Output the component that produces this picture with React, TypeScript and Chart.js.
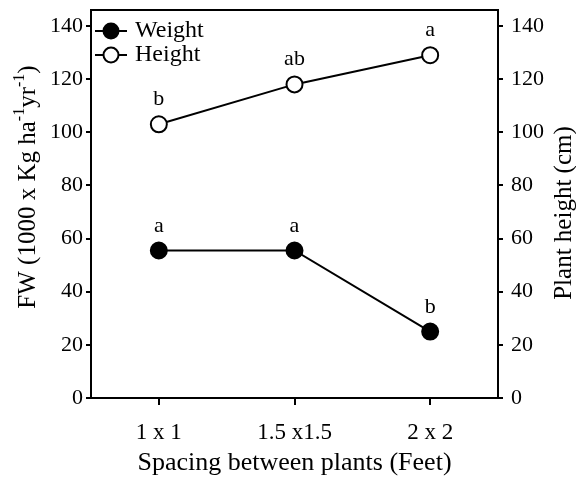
import React, { useEffect, useRef } from "react";
import { Chart, registerables } from "chart.js";

Chart.register(...registerables);

const categories = ["1 x 1", "1.5 x1.5", "2 x 2"];
const weightValues = [55.5, 55.5, 25];
const heightValues = [103, 118, 129];
const weightLetters = ["a", "a", "b"];
const heightLetters = ["b", "ab", "a"];
const yTicks = [0, 20, 40, 60, 80, 100, 120, 140];

const FONT = "'Liberation Serif', 'Times New Roman', serif";

const decorPlugin = {
  id: "decor",
  afterDatasetsDraw(chart: any) {
    const ctx = chart.ctx;
    const area = chart.chartArea;
    ctx.save();
    // top border
    ctx.strokeStyle = "#000";
    ctx.lineWidth = 2;
    ctx.beginPath();
    ctx.moveTo(area.left - 1, area.top);
    ctx.lineTo(area.right + 1, area.top);
    ctx.stroke();

    // letters
    ctx.fillStyle = "#000";
    ctx.font = `22px ${FONT}`;
    ctx.textAlign = "center";
    ctx.textBaseline = "alphabetic";
    const letterSets = [weightLetters, heightLetters];
    chart.data.datasets.forEach((ds: any, i: number) => {
      const meta = chart.getDatasetMeta(i);
      meta.data.forEach((pt: any, j: number) => {
        ctx.fillText(letterSets[i][j], pt.x, pt.y - 19);
      });
    });

    // legend
    const rows = [
      { label: chart.data.datasets[0].label, fill: "#000", y: area.top + 21 },
      { label: chart.data.datasets[1].label, fill: "#fff", y: area.top + 45 },
    ];
    rows.forEach((r) => {
      ctx.strokeStyle = "#000";
      ctx.lineWidth = 2;
      ctx.beginPath();
      ctx.moveTo(area.left + 4, r.y);
      ctx.lineTo(area.left + 36, r.y);
      ctx.stroke();
      ctx.beginPath();
      ctx.arc(area.left + 20, r.y, 7.5, 0, Math.PI * 2);
      ctx.fillStyle = r.fill;
      ctx.fill();
      ctx.stroke();
      ctx.fillStyle = "#000";
      ctx.font = `24px ${FONT}`;
      ctx.textAlign = "left";
      ctx.textBaseline = "middle";
      ctx.fillText(r.label, area.left + 44, r.y);
    });

    // titles with superscripts
    const drawRich = (parts: { t: string; sup?: boolean }[], cx: number, cy: number) => {
      const base = `25px ${FONT}`;
      const sup = `16px ${FONT}`;
      let total = 0;
      parts.forEach((p) => {
        ctx.font = p.sup ? sup : base;
        total += ctx.measureText(p.t).width;
      });
      ctx.save();
      ctx.translate(cx, cy);
      ctx.rotate(-Math.PI / 2);
      ctx.textAlign = "left";
      ctx.textBaseline = "middle";
      let x = -total / 2;
      parts.forEach((p) => {
        ctx.font = p.sup ? sup : base;
        ctx.fillText(p.t, x, p.sup ? -8 : 0);
        x += ctx.measureText(p.t).width;
      });
      ctx.restore();
    };
    ctx.fillStyle = "#000";
    drawRich(
      [
        { t: "FW (1000 x Kg ha" },
        { t: "-1", sup: true },
        { t: "yr" },
        { t: "-1", sup: true },
        { t: ")" },
      ],
      28,
      187
    );
    drawRich([{ t: "Plant height (cm)" }], 564, 213);
    ctx.restore();
  },
};

export default function App() {
  const ref = useRef<HTMLCanvasElement | null>(null);
  useEffect(() => {
    if (!ref.current) return;
    const filterTicks = (scale: any) => {
      scale.ticks = yTicks.map((v) => ({ value: v }));
    };
    const chart = new Chart(ref.current, {
      type: "line",
      data: {
        labels: categories,
        datasets: [
          {
            label: "Weight",
            data: weightValues,
            yAxisID: "y",
            borderColor: "#000",
            backgroundColor: "#000",
            borderWidth: 2,
            pointRadius: 8,
            pointBorderWidth: 2,
            pointBackgroundColor: "#000",
            pointBorderColor: "#000",
            tension: 0,
          },
          {
            label: "Height",
            data: heightValues,
            yAxisID: "y1",
            borderColor: "#000",
            backgroundColor: "#fff",
            borderWidth: 2,
            pointRadius: 8,
            pointBorderWidth: 2,
            pointBackgroundColor: "#fff",
            pointBorderColor: "#000",
            tension: 0,
          },
        ],
      },
      options: {
        animation: false,
        responsive: false,
        maintainAspectRatio: false,
        layout: { padding: { top: 8, left: 0, right: 0, bottom: 0 } },
        plugins: { legend: { display: false }, tooltip: { enabled: false } },
        scales: {
          x: {
            type: "category",
            offset: true,
            grid: { display: true, drawOnChartArea: false, drawTicks: true, tickLength: 7, color: "#000", lineWidth: 2, offset: false },
            border: { display: true, color: "#000", width: 2 },
            ticks: { color: "#000", font: { family: FONT, size: 23 }, padding: 14, maxRotation: 0 },
            title: {
              display: true,
              text: "Spacing between plants (Feet)",
              color: "#000",
              font: { family: FONT, size: 26 },
              padding: { top: 0, bottom: 0 },
            },
            afterFit: (s: any) => {
              s.height = 81;
              s.paddingLeft = 0;
              s.paddingRight = 0;
            },
          },
          y: {
            position: "left",
            min: 0,
            max: 146,
            afterBuildTicks: filterTicks,
            grid: { display: true, drawOnChartArea: false, drawTicks: true, tickLength: 5, color: "#000", lineWidth: 2 },
            border: { display: true, color: "#000", width: 2 },
            ticks: { color: "#000", font: { family: FONT, size: 22 }, padding: 3 },
            afterFit: (s: any) => {
              s.width = 91;
              s.paddingTop = 0;
              s.paddingBottom = 0;
            },
          },
          y1: {
            position: "right",
            min: 0,
            max: 146,
            afterBuildTicks: filterTicks,
            grid: { display: true, drawOnChartArea: false, drawTicks: true, tickLength: 5, color: "#000", lineWidth: 2 },
            border: { display: true, color: "#000", width: 2 },
            ticks: { color: "#000", font: { family: FONT, size: 22 }, padding: 8 },
            afterFit: (s: any) => {
              s.width = 78;
              s.paddingTop = 0;
              s.paddingBottom = 0;
            },
          },
        },
      },
      plugins: [decorPlugin],
    });
    return () => chart.destroy();
  }, []);
  return (
    <div style={{ position: "fixed", left: 0, top: 0, width: 576, height: 479, background: "#fff" }}>
      <canvas ref={ref} width={576} height={479} style={{ width: 576, height: 479 }} />
    </div>
  );
}
